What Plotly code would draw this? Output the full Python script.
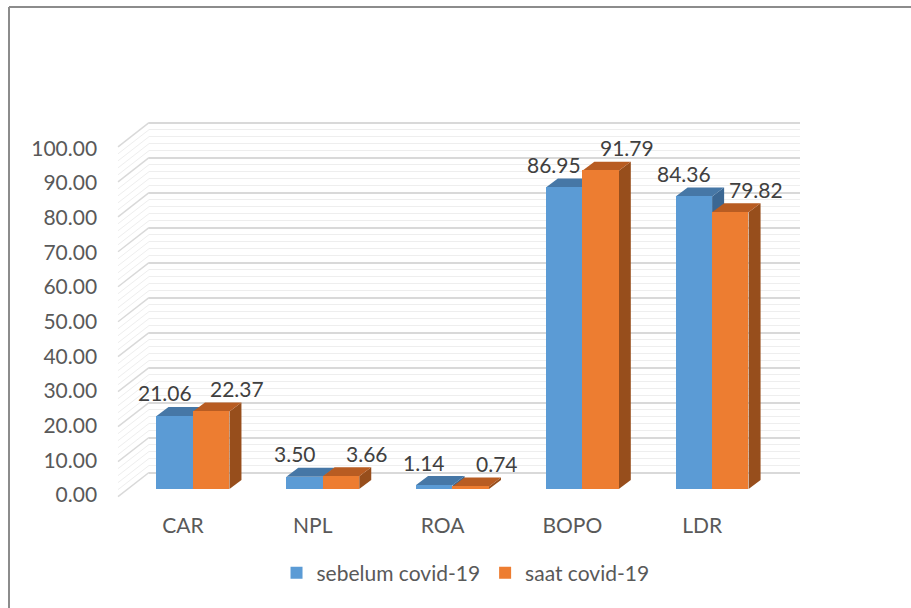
import plotly.graph_objects as go

# ---- data ----
categories = ["CAR", "NPL", "ROA", "BOPO", "LDR"]
sebelum = [21.06, 3.50, 1.14, 86.95, 84.36]
saat = [22.37, 3.66, 0.74, 91.79, 79.82]
series_names = ["sebelum covid-19", "saat covid-19"]
y_ticks = [0, 10, 20, 30, 40, 50, 60, 70, 80, 90, 100]

# ---- style ----
W, H = 911, 608
FONT = "Lato, Calibri, Arial, sans-serif"
AXIS_COLOR = "#595959"
LABEL_COLOR = "#404040"
front_cols = ["#5b9bd5", "#ed7d31"]
top_cols = ["#4677a6", "#b85c22"]
side_cols = ["#3b6793", "#974e1c"]

def px_x(p):
    return p / W

def px_y(p):
    return 1 - p / H

BAR_W = 0.281          # bar width in category units
DX = 12 / 129.75        # 3D depth offset (category units)
DY = 9 / 3.466          # 3D depth offset (value units)
WALL_DEPTH = 6.9        # side-wall depth in value units

fig = go.Figure()

# invisible trace to hold the back-wall subplot
fig.add_trace(go.Scatter(x=[0.5], y=[50], xaxis="x", yaxis="y", mode="markers",
                         marker=dict(opacity=0), showlegend=False, hoverinfo="skip"))

series = [sebelum, saat]
offsets = [-BAR_W, 0.0]
xs = list(range(len(categories)))
for s, vals in enumerate(series):
    fig.add_trace(go.Bar(
        x=xs, y=vals, name=series_names[s], xaxis="x2", yaxis="y2",
        width=BAR_W, offset=offsets[s],
        marker=dict(color=front_cols[s], line=dict(width=0)),
        hoverinfo="skip",
    ))

shapes = []
# 3D faces derived from data
for s, vals in enumerate(series):
    for i, v in enumerate(vals):
        x0 = i + offsets[s]
        x1 = x0 + BAR_W
        side = f"M {x1},0 L {x1},{v} L {x1+DX},{v+DY} L {x1+DX},{DY} Z"
        top = f"M {x0},{v} L {x1},{v} L {x1+DX},{v+DY} L {x0+DX},{v+DY} Z"
        shapes.append(dict(type="path", path=side, xref="x2", yref="y2", layer="between",
                           fillcolor=side_cols[s], line=dict(width=0)))
        shapes.append(dict(type="path", path=top, xref="x2", yref="y2", layer="between",
                           fillcolor=top_cols[s], line=dict(width=0)))

# side wall diagonal lines
for v in range(0, 101, 2):
    major = v % 10 == 0
    shapes.append(dict(type="line", xref="paper", yref="y", layer="below",
                       x0=px_x(118), x1=px_x(149), y0=v - WALL_DEPTH, y1=v,
                       line=dict(color="#d9d9d9" if major else "#eeeeee",
                                 width=1.5 if major else 1)))

# chart border
shapes.append(dict(type="line", xref="paper", yref="paper", x0=px_x(9), x1=1,
                   y0=px_y(7), y1=px_y(7), line=dict(color="#8c8c8c", width=2)))
shapes.append(dict(type="line", xref="paper", yref="paper", x0=px_x(9), x1=px_x(9),
                   y0=px_y(7), y1=0, line=dict(color="#8c8c8c", width=2)))

# data labels
annotations = []
label_shift = [-10, 26]
for s, vals in enumerate(series):
    for i, v in enumerate(vals):
        annotations.append(dict(
            x=i + offsets[s] + BAR_W / 2, y=v, xref="x2", yref="y2",
            text=f"{v:.2f}", showarrow=False, xshift=label_shift[s], yshift=23,
            font=dict(family=FONT, size=21, color=LABEL_COLOR),
            xanchor="center", yanchor="middle"))

# back wall axis: 0 -> 472.5px, 100 -> 122.7px
ppu = (472.5 - 122.7) / 100
wall_lo, wall_hi = -7.5, 101
minor_vals = [v for v in range(2, 100, 2) if v % 10 != 0]

fig.update_layout(
    width=W, height=H, autosize=False,
    margin=dict(l=0, r=0, t=0, b=0, pad=0, autoexpand=False),
    paper_bgcolor="white", plot_bgcolor="rgba(0,0,0,0)",
    font=dict(family=FONT, color=AXIS_COLOR, size=21),
    showlegend=True,
    legend=dict(orientation="h", x=0.511, xanchor="center", y=px_y(573), yanchor="middle",
                font=dict(family=FONT, size=21, color=AXIS_COLOR), traceorder="normal"),
    xaxis=dict(domain=[px_x(149), px_x(800)], range=[0, 1], visible=False, fixedrange=True,
               automargin=False),
    yaxis=dict(domain=[px_y(472.5 + (0 - wall_lo) * ppu), px_y(122.7 - (wall_hi - 100) * ppu)],
               range=[wall_lo, wall_hi], tickmode="array", tickvals=y_ticks,
               showticklabels=False, showgrid=True, gridcolor="#d9d9d9", gridwidth=1.5,
               zeroline=False, showline=False, ticks="", automargin=False,
               minor=dict(tickmode="array", tickvals=minor_vals, showgrid=True,
                          gridcolor="#eeeeee", gridwidth=1, ticks=""),
               fixedrange=True),
    xaxis2=dict(domain=[px_x(128.1), px_x(777)], range=[-0.5, 4.5], anchor="y2",
                tickmode="array", tickvals=xs, ticktext=categories,
                showgrid=False, zeroline=False, showline=False, ticks="",
                ticklabelshift=-10, ticklabelstandoff=22, automargin=False,
                tickfont=dict(family=FONT, size=21, color=AXIS_COLOR), fixedrange=True),
    yaxis2=dict(domain=[px_y(489), px_y(142.3)], range=[0, 100], anchor="x2",
                tickmode="array", tickvals=y_ticks, ticktext=[f"{t:.2f}" for t in y_ticks],
                showgrid=False, zeroline=False, showline=False, ticks="",
                ticklabelshift=6, ticklabelstandoff=30, automargin=False,
                tickfont=dict(family=FONT, size=21, color=AXIS_COLOR), fixedrange=True),
    shapes=shapes,
    annotations=annotations,
    bargap=0, barmode="overlay",
)

fig.write_html("out.html")
